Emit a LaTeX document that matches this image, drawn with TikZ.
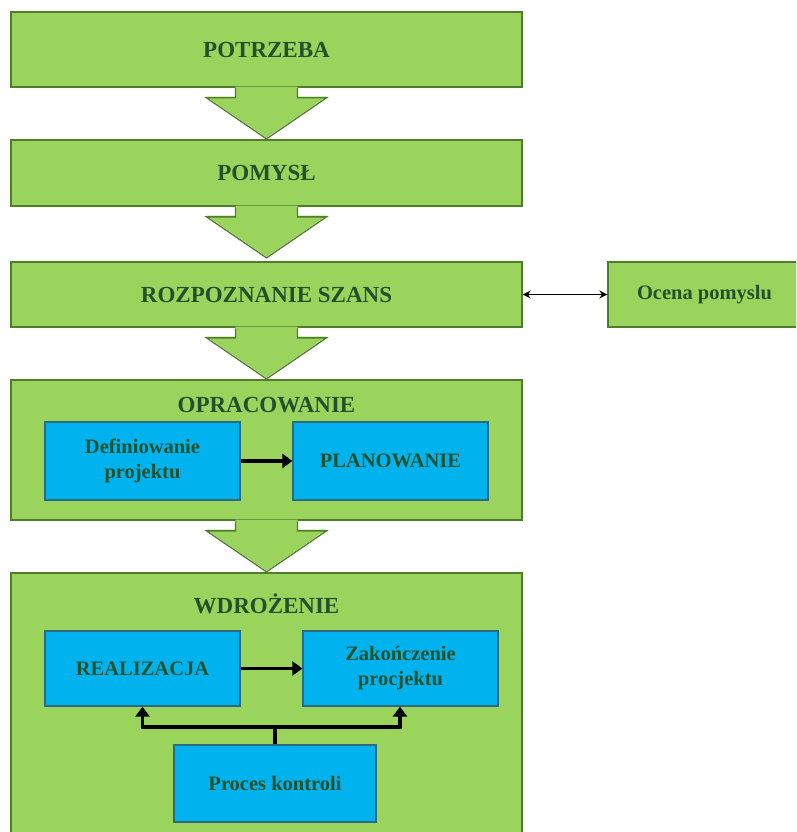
\documentclass[tikz,border=0pt]{standalone}
\usepackage{fontspec}
\setmainfont{Liberation Serif}
\usetikzlibrary{arrows.meta,calc}

\definecolor{phasefill}{HTML}{9BD45C}
\definecolor{phaseline}{HTML}{4E7E2C}
\definecolor{taskfill}{HTML}{00B3EE}
\definecolor{taskline}{HTML}{2C6A80}
\definecolor{labelink}{HTML}{24502C}

\tikzset{
  phase/.style={draw=phaseline, fill=phasefill, line width=1.3pt,
    inner sep=0pt, text=labelink, font=\fontsize{23}{26}\selectfont\bfseries},
  task/.style={draw=taskline, fill=taskfill, line width=1.2pt,
    inner sep=0pt, text=labelink, align=center,
    font=\fontsize{20.5}{25}\selectfont\bfseries},
  flow/.style={line width=3.2pt, -{Triangle[length=10pt,width=14pt]}},
  ctl/.style={line width=3.2pt},
  blockfill/.style={fill=phasefill},
  blockline/.style={draw=phaseline, line width=1.3pt, line join=miter},
}

% block arrow hanging below a phase box
\newcommand\phasearrow[1]{%
  \fill[blockfill] ([xshift=-31pt,yshift=1pt]#1.south) -- ++(0,10) -- ++(-29,0)
    -- ++(60,41) -- ++(60,-41) -- ++(-29,0) -- ++(0,-10) -- cycle;
  \draw[blockline] ([xshift=-31pt,yshift=-0.6pt]#1.south) -- ++(0,9.6) -- ++(-29,0)
    -- ++(60,41) -- ++(60,-41) -- ++(-29,0) -- ++(0,-9.6);
}

\begin{document}
\begin{tikzpicture}[x=1pt,y=-1pt]
  \useasboundingbox (0,0) rectangle (796,832);
  \begin{scope}
  \clip (0,0) rectangle (796,832);

  % main phases
  \node[phase, minimum width=511pt, minimum height=75pt] (need) at (266.5,49.5) {POTRZEBA};
  \node[phase, minimum width=511pt, minimum height=66pt] (idea) at (266.5,173) {POMYSŁ};
  \node[phase, minimum width=511pt, minimum height=65pt] (chance) at (266.5,294.5) {ROZPOZNANIE SZANS};
  \node[phase, minimum width=193pt, minimum height=65pt,
        font=\fontsize{20.5}{24}\selectfont\bfseries] (eval) at (704.5,294.5) {Ocena pomyslu};
  \node[phase, minimum width=511pt, minimum height=140pt] (dev) at (266.5,450) {};
  \node[phase, minimum width=511pt, minimum height=272pt] (impl) at (266.5,709) {};

  \node[text=labelink, font=\fontsize{23}{26}\selectfont\bfseries] (devtitle) at (266.5,405) {OPRACOWANIE};
  \node[text=labelink, font=\fontsize{23}{26}\selectfont\bfseries] (impltitle) at (266.5,604) {WDROŻENIE};

  % block arrows between phases
  \phasearrow{need}
  \phasearrow{idea}
  \phasearrow{chance}
  \phasearrow{dev}

  \draw[line width=1.5pt, {Stealth[length=8pt,width=8pt]}-{Stealth[length=8pt,width=8pt]}]
    (chance.east) -- (eval.west);

  % tasks inside OPRACOWANIE
  \node[task, minimum width=195pt, minimum height=78pt] (define) at (142.5,461) {Definiowanie\\projektu};
  \node[task, minimum width=195pt, minimum height=78pt] (plan) at (390.5,461) {PLANOWANIE};
  \draw[flow] (define) -- (plan);

  % tasks inside WDROŻENIE
  \node[task, minimum width=195pt, minimum height=75pt] (real) at (142.5,668.5) {REALIZACJA};
  \node[task, minimum width=195pt, minimum height=75pt] (close) at (400.5,668.5) {Zakończenie\\procjektu};
  \node[task, minimum width=202pt, minimum height=77pt] (control) at (275,783.5) {Proces kontroli};
  \draw[flow] (real) -- (close);

  \coordinate (split) at (275,727);
  \draw[ctl] (control.north) -- (split);
  \draw[flow] (split) -| (real.south);
  \draw[flow] (split) -| ([xshift=-0.5pt]close.south);
  \end{scope}
\end{tikzpicture}
\end{document}
